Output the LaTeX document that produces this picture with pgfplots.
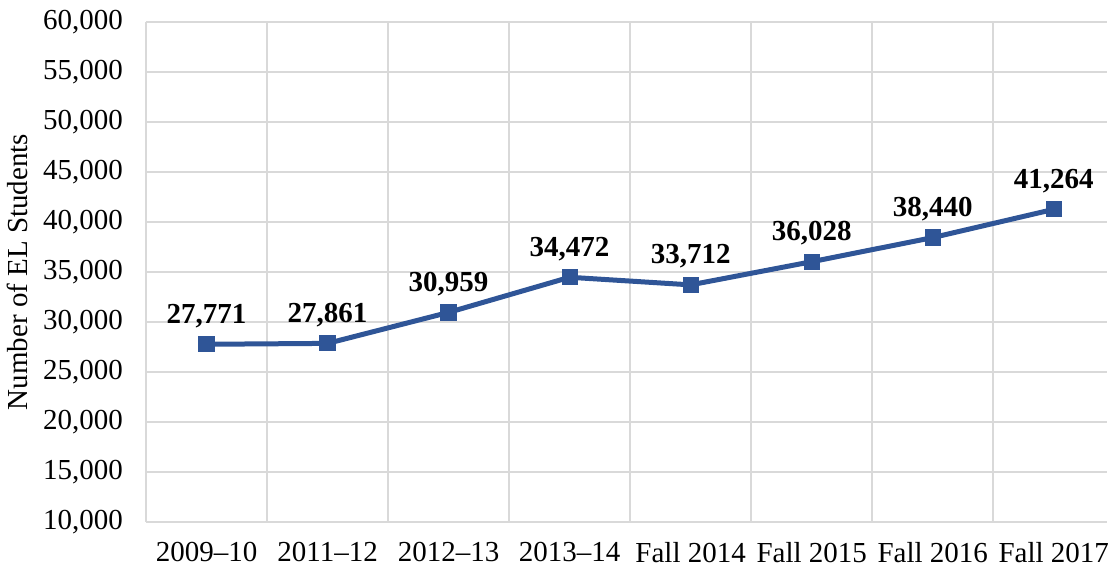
\documentclass[border=0pt]{standalone}
\usepackage{fontspec}
\setmainfont{Liberation Serif}
\usepackage{pgfplots}
\pgfplotsset{compat=1.18}
\definecolor{lineblue}{HTML}{2F5597}
\definecolor{gridgray}{HTML}{D9D9D9}
\begin{document}
\begin{tikzpicture}
\begin{axis}[
  scale only axis,
  width=480.5pt, height=250pt,
  xmin=-0.5, xmax=7.44,
  ymin=10000, ymax=60000,
  ytick={10000,15000,...,60000},
  scaled y ticks=false,
  yticklabel={\pgfmathprintnumber[fixed,precision=0,1000 sep={,},assume math mode=true]{\tick}},
  xtick={0,...,7},
  xticklabels={2009–10,2011–12,2012–13,2013–14,Fall 2014,Fall 2015,Fall 2016,Fall 2017},
  minor xtick={-0.5,0.5,...,6.5},
  xminorgrids=true, ymajorgrids=true,
  grid style={gridgray, line width=0.8pt},
  minor grid style={gridgray, line width=0.8pt},
  axis x line=bottom, axis y line=left,
  axis line style={gridgray, line width=0.8pt, -},
  major tick length=0pt, minor tick length=0pt,
  tick label style={font=\fontsize{14.5}{16}\selectfont, black},
  xticklabel style={yshift=-6.5pt},
  yticklabel style={xshift=-8pt},
  ylabel={Number of EL Students},
  ylabel style={font=\fontsize{14.5}{16}\selectfont, yshift=1pt},
  clip=false,
  nodes near coords,
  nodes near coords style={font=\fontsize{14.5}{16}\selectfont\bfseries, black, anchor=base, yshift=10.5pt},
  /pgf/number format/1000 sep={,},
  /pgf/number format/assume math mode=true,
]
\addplot[color=lineblue, line width=2.5pt, mark=square*, mark size=3.8pt, mark options={fill=lineblue, draw=lineblue, line width=0pt}]
coordinates {(0,27771) (1,27861) (2,30959) (3,34472) (4,33712) (5,36028) (6,38440) (7,41264)};
\end{axis}
\pgfresetboundingbox
\path[use as bounding box] ([xshift=-73pt,yshift=-24.5pt]current axis.south west) rectangle ([xshift=0.5pt,yshift=11pt]current axis.north east);
\end{tikzpicture}
\end{document}
